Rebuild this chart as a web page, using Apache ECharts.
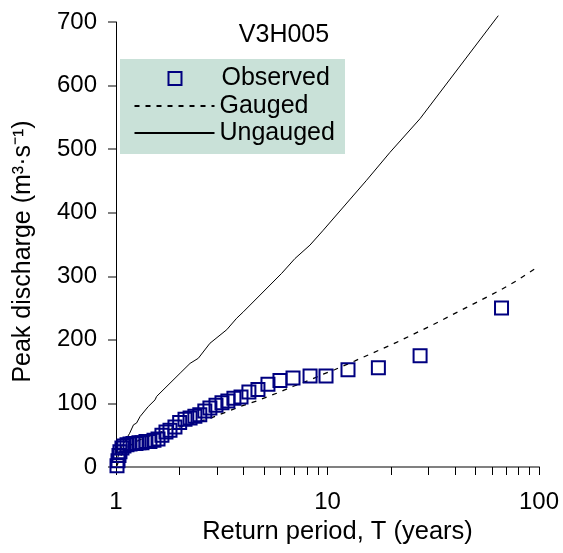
<!DOCTYPE html>
<html>
<head>
<meta charset="utf-8">
<script src="https://cdn.jsdelivr.net/npm/echarts@6/dist/echarts.min.js"></script>
<style>
html,body{margin:0;padding:0;background:#fff;}
#chart{width:563px;height:553px;}
</style>
</head>
<body>
<div id="chart"></div>
<script>
// Observed annual peaks: return period T (years) and discharge (m3/s)
const obsT = [1.011,1.022,1.033,1.044,1.067,1.091,1.127,1.165,1.203,1.243,1.284,1.327,1.386,1.447,1.512,1.580,1.649,1.723,1.80,1.90,2.00,2.12,2.24,2.36,2.49,2.63,2.78,2.97,3.17,3.38,3.61,3.90,4.25,4.69,5.23,5.96,6.87,8.27,9.84,12.5,17.4,27.4,66.5];
const obsQ = [2,10,18,24,30,33,35,36,37,37,38,38,40,40,42,44,50,55,58,63,70,75,77,80,82,88,93,97,101,104,108,110,118,122,130,136,140,143,143,153,156,175,250];

// Gauged frequency curve
const gaugedT = [1.01,1.02,1.04,1.1,1.2,1.3,1.5,1.75,2.0,2.4,2.8,3.86,4.63,5.75,6.89,8.27,9.55,10.8,13.5,21.2,31.6,45.5,65.4,78.4,100];
const gaugedQ = [2,6,15,27,37,43,51,58,63,70,77,95,104,116,127,137,146,153,167,196,224,251,278,293,316];

// Ungauged frequency curve
const ungaugedT = [1.02,1.05,1.076,1.10,1.124,1.16,1.21,1.25,1.30,1.42,1.45,1.53,1.556,2.01,2.24,2.45,2.78,3.34,3.72,4.0,6.07,7.02,8.26,9.55,15.3,19.75,27.4,64.2];
const ungaugedQ = [15,28,35,40,45.5,53,66.4,69,79.4,95,97.8,105.6,111,147.6,163,171,194.6,216,234,244,304.6,328,349,372.5,451,495,548,710];

// Axis ticks
const xMin = 1, xMax = 100;
const yMin = 0, yMax = 700, yStep = 100;

const zip = (a, b) => a.map((v, i) => [v, b[i]]);
const FONT = "'Liberation Sans', Arial, sans-serif";

const chart = echarts.init(document.getElementById('chart'), null, {renderer: 'canvas'});
chart.setOption({
  animation: false,
  backgroundColor: '#ffffff',
  textStyle: {fontFamily: FONT},
  title: {
    text: 'V3H005', left: 279, top: 18, textAlign: 'center',
    textStyle: {fontSize: 25, fontWeight: 'normal', color: '#000', fontFamily: FONT}
  },
  graphic: [{
    type: 'rect', left: 120, top: 59, z: 1,
    shape: {width: 225, height: 95},
    style: {fill: '#c9e1d8'}
  }],
  legend: [
    {
      data: ['Observed'], left: 167.5, top: 66, orient: 'vertical', padding: 0,
      itemWidth: 13, itemHeight: 13, z: 5,
      textStyle: {fontSize: 25, color: '#000', fontFamily: FONT, padding: [0, 0, 0, 35]},
      selectedMode: false
    },
    {
      data: ['Gauged', 'Ungauged'], left: 133.5, top: 93.5, orient: 'vertical', padding: 0,
      itemWidth: 80, itemHeight: 13, itemGap: 2, z: 5,
      itemStyle: {color: 'rgba(0,0,0,0)', borderColor: 'rgba(0,0,0,0)', borderWidth: 0, opacity: 0},
      textStyle: {fontSize: 25, color: '#000', fontFamily: FONT},
      selectedMode: false
    }
  ],
  grid: {left: 116, right: 24, top: 22, bottom: 86, containLabel: false, outerBoundsMode: 'none'},
  xAxis: {
    type: 'log', logBase: 10, min: xMin, max: xMax,
    name: 'Return period, T (years)', nameLocation: 'middle', nameGap: 43,
    nameTextStyle: {fontSize: 25.5, color: '#000', fontFamily: FONT, padding: [0, 0, 0, 20]},
    axisLine: {show: true, lineStyle: {color: '#808080', width: 2}},
    axisTick: {show: true, length: 8, lineStyle: {color: '#000', width: 1}},
    minorTick: {show: true, splitNumber: 9, length: 8, lineStyle: {color: '#000', width: 1}},
    axisLabel: {fontSize: 24, color: '#000', margin: 23, fontFamily: FONT},
    splitLine: {show: false}
  },
  yAxis: {
    type: 'value', min: yMin, max: yMax, interval: yStep,
    name: 'Peak discharge (m³·s⁻¹)', nameLocation: 'middle', nameGap: 80,
    nameTextStyle: {fontSize: 25, color: '#000', fontFamily: FONT, padding: [0, 14, 0, 0]},
    axisLine: {show: true, onZero: false, lineStyle: {color: '#000', width: 1}},
    axisTick: {show: true, length: 8, lineStyle: {color: '#808080', width: 2}},
    axisLabel: {fontSize: 24, color: '#000', margin: 19, fontFamily: FONT},
    splitLine: {show: false}
  },
  series: [
    {
      name: 'Ungauged', type: 'line', data: zip(ungaugedT, ungaugedQ),
      symbol: 'none', clip: false, z: 2,
      lineStyle: {color: '#000', width: 1, type: 'solid'},
      itemStyle: {color: '#000'}
    },
    {
      name: 'Gauged', type: 'line', data: zip(gaugedT, gaugedQ),
      symbol: 'none', z: 2,
      lineStyle: {color: '#000', width: 1.3, type: [5, 6]},
      itemStyle: {color: '#000'}
    },
    {
      name: 'Observed', type: 'scatter', data: zip(obsT, obsQ),
      symbol: 'rect', symbolSize: 13, z: 3,
      itemStyle: {color: 'rgba(0,0,0,0)', borderColor: '#000080', borderWidth: 2, opacity: 1}
    }
  ]
});
</script>
</body>
</html>
